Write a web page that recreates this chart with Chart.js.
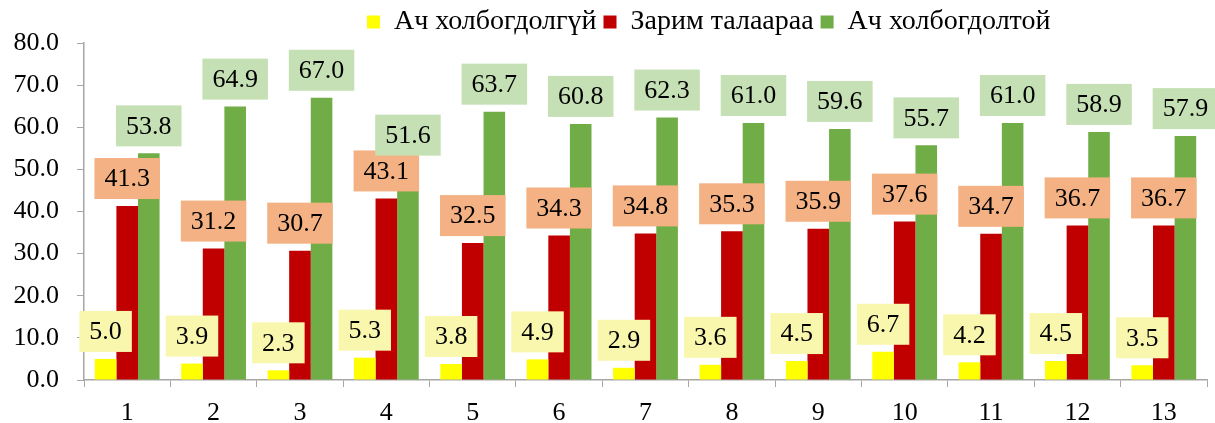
<!DOCTYPE html>
<html>
<head>
<meta charset="utf-8">
<script src="https://cdn.jsdelivr.net/npm/chart.js@4.4.1/dist/chart.umd.min.js"></script>
<style>
  html, body { margin: 0; padding: 0; background: #fff; }
  #wrap { width: 1215px; height: 423px; position: relative; }
  .warm { position: absolute; left: -9999px; font-family: "Liberation Serif", "Times New Roman", serif; font-size: 26px; }
</style>
</head>
<body>
<span class="warm">0.1 Ач холбогдолгүй</span>
<div id="wrap"><canvas id="chart"></canvas></div>
<script>
// categories and values
const categories = ['1', '2', '3', '4', '5', '6', '7', '8', '9', '10', '11', '12', '13'];
const seriesNames = ['Ач холбогдолгүй', 'Зарим талаараа', 'Ач холбогдолтой'];
const noRelation = [5.0, 3.9, 2.3, 5.3, 3.8, 4.9, 2.9, 3.6, 4.5, 6.7, 4.2, 4.5, 3.5];
const somewhat = [41.3, 31.2, 30.7, 43.1, 32.5, 34.3, 34.8, 35.3, 35.9, 37.6, 34.7, 36.7, 36.7];
const related = [53.8, 64.9, 67.0, 51.6, 63.7, 60.8, 62.3, 61.0, 59.6, 55.7, 61.0, 58.9, 57.9];
const yTicks = [0, 10, 20, 30, 40, 50, 60, 70, 80];

const barColors = ['#FFFF00', '#C00000', '#70AD47'];
const labelBg = ['#F9F7AE', '#F4B183', '#C5E0B4'];
const FONT = "'Liberation Serif', 'Times New Roman', serif";
const axisGray = '#A6A6A6';

// labels with coloured boxes above each bar
const boxLabels = {
  id: 'boxLabels',
  afterDatasetsDraw(chart) {
    const ctx = chart.ctx;
    ctx.save();
    ctx.font = '26px ' + FONT;
    ctx.textAlign = 'center';
    ctx.textBaseline = 'middle';
    chart.data.datasets.forEach((ds, i) => {
      const meta = chart.getDatasetMeta(i);
      meta.data.forEach((bar, j) => {
        const txt = ds.data[j].toFixed(1);
        const w = ctx.measureText(txt).width + 20;
        const h = 41;
        const bottom = bar.y - 7;
        ctx.fillStyle = labelBg[i];
        ctx.fillRect(bar.x - w / 2, bottom - h, w, h);
        ctx.fillStyle = '#000';
        ctx.fillText(txt, bar.x, bottom - h / 2 + 1);
      });
    });
    ctx.restore();
  }
};

// legend: fixed height, sits a bit right of centre like the original
const legendShift = {
  id: 'legendShift',
  beforeLayout(chart) {
    const lg = chart.legend;
    if (lg && !lg._fixed) {
      const fit = lg.fit.bind(lg);
      lg.fit = function () { fit(); this.height = 43; };
      lg._fixed = true;
    }
  },
  afterLayout(chart) {
    const lg = chart.legend;
    if (!lg) return;
    const w = lg.width;
    lg.left = 360;
    lg.right = 360 + w;
    lg.top = 1;
  }
};

function draw() {
  const data = {
    labels: categories,
    datasets: [noRelation, somewhat, related].map((vals, i) => ({
      label: seriesNames[i],
      data: vals,
      backgroundColor: barColors[i],
      categoryPercentage: 0.75,
      barPercentage: 1.0
    }))
  };

  new Chart(document.getElementById('chart'), {
    type: 'bar',
    data: data,
    plugins: [boxLabels, legendShift],
    options: {
      responsive: true,
      maintainAspectRatio: false,
      animation: false,
      layout: { padding: { left: 0, right: 8, top: 0, bottom: 0 } },
      plugins: {
        legend: {
          position: 'top',
          align: 'start',
          labels: {
            boxWidth: 13,
            boxHeight: 13,
            padding: 7,
            color: '#000',
            font: { family: FONT, size: 28 }
          }
        },
        tooltip: { enabled: false }
      },
      scales: {
        x: {
          grid: { display: true, drawOnChartArea: false, offset: true, color: axisGray, tickLength: 7 },
          border: { color: axisGray, width: 1.5 },
          ticks: { color: '#000', padding: 11, font: { family: FONT, size: 26 } },
          afterFit(scale) { scale.height = 43; }
        },
        y: {
          min: 0,
          max: 80,
          afterBuildTicks(scale) { scale.ticks = yTicks.map(v => ({ value: v })); },
          grid: { display: true, drawOnChartArea: false, color: axisGray, tickLength: 7 },
          border: { color: axisGray, width: 1.5 },
          ticks: {
            color: '#000',
            padding: 18,
            font: { family: FONT, size: 26 },
            callback: v => Number(v).toFixed(1)
          },
          afterFit(scale) { scale.width = 84; }
        }
      }
    }
  });
}

if (document.fonts && document.fonts.load) {
  document.fonts.load("26px 'Liberation Serif'").then(draw, draw);
} else {
  draw();
}
</script>
</body>
</html>
